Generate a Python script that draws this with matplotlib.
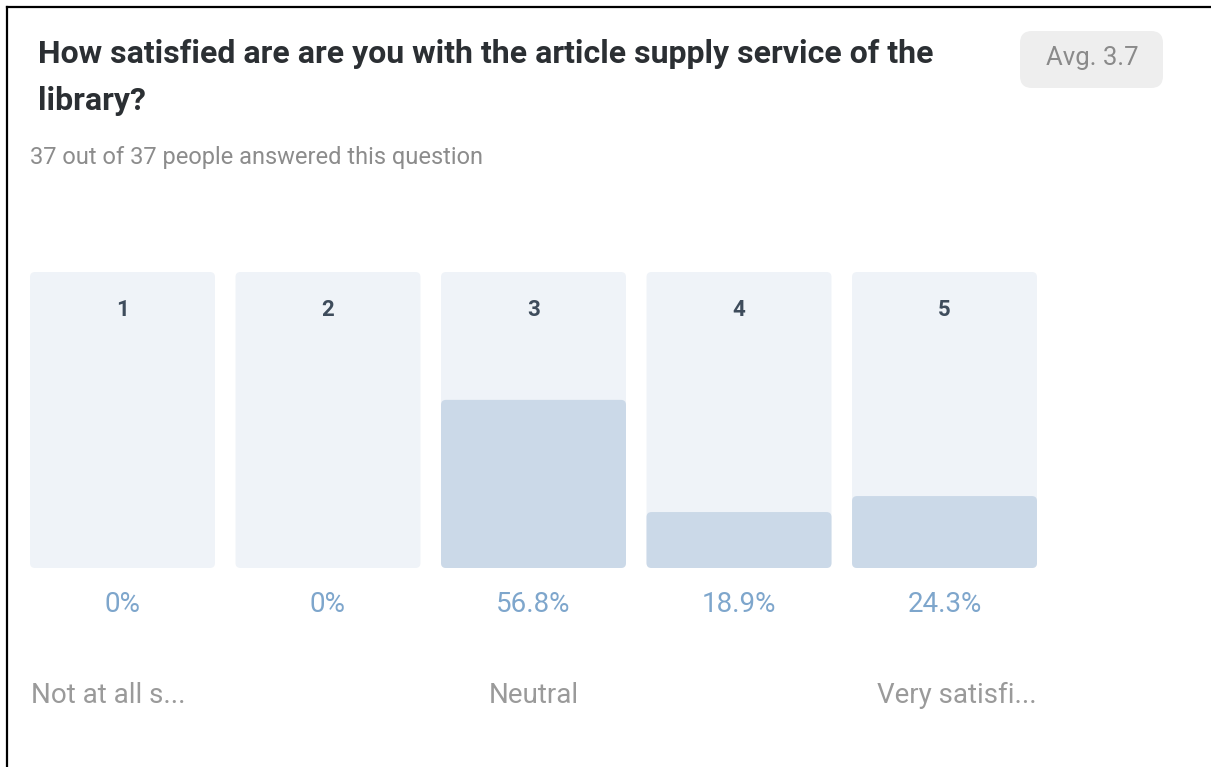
import matplotlib.pyplot as plt
from matplotlib.patches import FancyBboxPatch

# survey data
ratings = ["1", "2", "3", "4", "5"]
percents = [0, 0, 56.8, 18.9, 24.3]
pct_labels = ["0%", "0%", "56.8%", "18.9%", "24.3%"]
scale_labels = ["Not at all s...", "Neutral", "Very satisfi..."]
title_lines = ["How satisfied are are you with the article supply service of the", "library?"]
subtitle = "37 out of 37 people answered this question"
avg_text = "Avg. 3.7"

plt.rcParams['font.family'] = ['Roboto', 'DejaVu Sans']

W, H = 1211, 767
fig = plt.figure(figsize=(W / 100, H / 100), dpi=100)

# background axes in pixel coordinates for text / frame
bg = fig.add_axes([0, 0, 1, 1])
bg.set_xlim(0, W)
bg.set_ylim(H, 0)
bg.axis('off')

bg.plot([7, 7], [7, H], color='black', lw=1.6)
bg.plot([7, W], [7, 7], color='black', lw=1.6)

for k, line in enumerate(title_lines):
    bg.text(38, 63 + 47 * k, line, fontsize=23, fontweight='bold', color='#2b2f33',
            va='baseline', ha='left')
bg.text(30, 164, subtitle, fontsize=17, color='#8c8c8c', va='baseline', ha='left')

badge = FancyBboxPatch((1020, 31), 143, 57, boxstyle="round,pad=0,rounding_size=12",
                       fc='#eeeeee', ec='none')
bg.add_patch(badge)
bg.text(1092, 58, avg_text, fontsize=18.5, color='#8a8a8a', va='center', ha='center')

# bar axes
x0, x1, y0, y1 = 30, 1037, 272, 568
ax = fig.add_axes([x0 / W, 1 - y1 / H, (x1 - x0) / W, (y1 - y0) / H])
ax.set_xlim(-0.45, 4.45)
ax.set_ylim(0, 100)
ax.axis('off')

pos = list(range(len(ratings)))
back = ax.bar(pos, [100] * len(ratings), width=0.9, color='#eff3f8')
front = ax.bar(pos, percents, width=0.9, color='#cbd9e8')

# swap square bars for slightly rounded ones
aspect = (100 / (y1 - y0)) / (4.9 / (x1 - x0))
r = 5 * 4.9 / (x1 - x0)
for bars in (back, front):
    for p in bars:
        p.set_visible(False)
        if p.get_height() <= 0:
            continue
        ax.add_patch(FancyBboxPatch((p.get_x(), p.get_y()), p.get_width(), p.get_height(),
                                    boxstyle=f"round,pad=0,rounding_size={r}",
                                    mutation_aspect=aspect, fc=p.get_facecolor(), ec='none'))

for i, lab in enumerate(ratings):
    ax.text(i, 87.0, lab, fontsize=16, fontweight='bold', color='#3e4c5c',
            ha='center', va='center')
    ax.text(i, -12.3, pct_labels[i], fontsize=20, color='#7ea6cc',
            ha='center', va='center', clip_on=False)

ax.text(-0.445, -43, scale_labels[0], fontsize=20, color='#9a9a9a',
        ha='left', va='center', clip_on=False)
ax.text(2, -43, scale_labels[1], fontsize=20, color='#9a9a9a',
        ha='center', va='center', clip_on=False)
ax.text(4.45, -43, scale_labels[2], fontsize=20, color='#9a9a9a',
        ha='right', va='center', clip_on=False)

fig.savefig("out.png", dpi=100, facecolor='white')
